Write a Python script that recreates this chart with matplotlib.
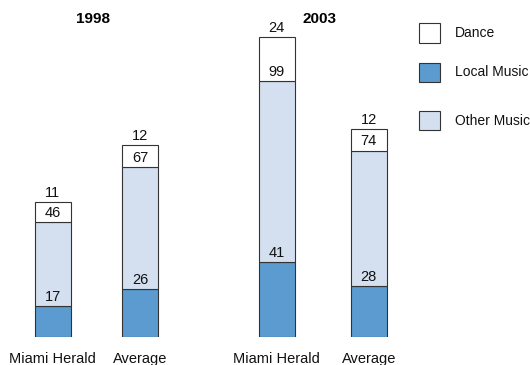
import matplotlib.pyplot as plt
from matplotlib.patches import Rectangle

plt.rcParams['font.family'] = ['Liberation Sans', 'DejaVu Sans']

# data
categories = ['Miami Herald', 'Average', 'Miami Herald', 'Average']
years = ['1998', '2003']
local_music = [17, 26, 41, 28]
other_music = [46, 67, 99, 74]
dance = [11, 12, 24, 12]

# bar positions (two groups of two)
x = [0, 1, 2.56, 3.61]
width = 0.41

c_local = '#5b9bd0'
c_other = '#d4e0f0'
c_dance = '#ffffff'
edge = '#333333'

fig = plt.figure(figsize=(5.3, 3.65), dpi=100)
ax = fig.add_axes([0, 28 / 365, 1, 329 / 365])

bottom_other = local_music
bottom_dance = [a + b for a, b in zip(local_music, other_music)]

ax.bar(x, local_music, width, color=c_local, edgecolor=edge, linewidth=0.8)
ax.bar(x, other_music, width, bottom=bottom_other, color=c_other,
       edgecolor=edge, linewidth=0.8)
ax.bar(x, dance, width, bottom=bottom_dance, color=c_dance,
       edgecolor=edge, linewidth=0.8)

# value labels sit just above each segment's top edge
for i in range(len(x)):
    tops = [local_music[i], bottom_dance[i], bottom_dance[i] + dance[i]]
    vals = [local_music[i], other_music[i], dance[i]]
    for t, v in zip(tops, vals):
        ax.annotate(str(v), (x[i], t), xytext=(0, 1.5),
                    textcoords='offset points', ha='center', va='bottom',
                    fontsize=10.5, color='#111111')

ax.set_xlim(-0.6, 5.45)
ax.set_ylim(0, 180)
ax.axis('off')

# category labels under the bars
for xi, lab in zip(x, categories):
    ax.annotate(lab, (xi, 0), xytext=(0, -16), textcoords='offset points',
                ha='center', va='center', fontsize=10.5, color='#111111',
                annotation_clip=False)

# year titles centred over each group
for k, yr in enumerate(years):
    xc = (x[2 * k] + x[2 * k + 1]) / 2
    ax.annotate(yr, (xc, 174), xytext=(-2.5, 0), textcoords='offset points',
                ha='center', va='center', fontsize=11, fontweight='bold')

# legend drawn by hand
leg_labels = ['Dance', 'Local Music', 'Other Music']
leg_colors = [c_dance, c_local, c_other]
leg_y = [33, 72, 121]
W, H = 530, 365
for lab, col, yy in zip(leg_labels, leg_colors, leg_y):
    fig.patches.append(Rectangle((419 / W, 1 - (yy + 9.5) / H), 21 / W, 19 / H,
                                 transform=fig.transFigure, facecolor=col,
                                 edgecolor=edge, linewidth=0.8))
    fig.text(455 / W, 1 - yy / H, lab, ha='left', va='center', fontsize=10,
             color='#111111')

fig.savefig('out.png', dpi=100)
